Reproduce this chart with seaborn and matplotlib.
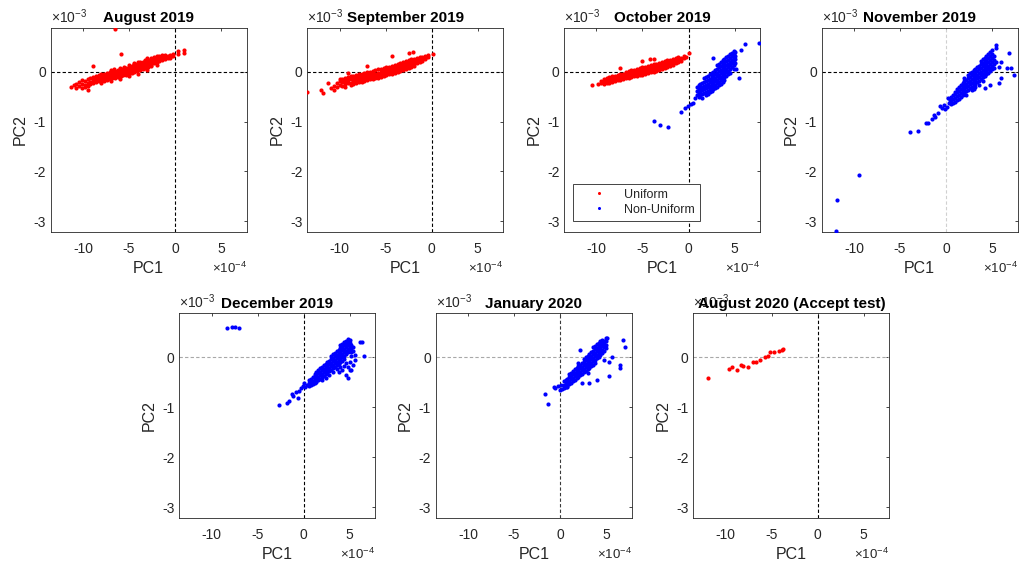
import matplotlib
matplotlib.use("Agg")
import matplotlib.pyplot as plt
from matplotlib.lines import Line2D
import seaborn as sns

# ---------------- data (PC1 in units of 1e-4, PC2 in units of 1e-3) ----------------
titles = ["August 2019", "September 2019", "October 2019", "November 2019",
          "December 2019", "January 2020", "August 2020 (Accept test)"]
x_ticks = [-10, -5, 0, 5]
y_ticks = [-3, -2, -1, 0]
legend_labels = ["Uniform", "Non-Uniform"]

# each entry: (PC1, [PC2 values at that PC1])
aug2019_uniform = [
    (-11.3, [-0.30]), (-11.0, [-0.27]), (-10.7, [-0.33, -0.24]), (-10.4, [-0.28, -0.20]),
    (-10.1, [-0.32, -0.24, -0.17]), (-9.8, [-0.26, -0.19, -0.30]), (-9.5, [-0.22, -0.15, -0.28, -0.36]),
    (-9.2, [-0.20, -0.13, -0.25]), (-8.9, [-0.17, -0.11, -0.23, 0.11]), (-8.6, [-0.15, -0.08, -0.21, -0.12]),
    (-8.3, [-0.13, -0.07, -0.19, -0.10]), (-8.0, [-0.11, -0.05, -0.17, -0.14, -0.08, -0.22]),
    (-7.7, [-0.10, -0.04, -0.15, -0.07, -0.19]), (-7.4, [-0.08, -0.02, -0.13, -0.05, -0.16]),
    (-7.1, [-0.07, -0.01, -0.12, -0.04, -0.15]), (-7.0, [-0.19, 0.04]), (-6.8, [-0.06, 0.01, -0.10, -0.03, -0.13]),
    (-6.6, [0.05]), (-6.5, [-0.04, 0.02, -0.09, -0.01, -0.12, 0.86]), (-6.2, [-0.03, 0.03, -0.07, 0.00, -0.10]),
    (-6.0, [-0.14, 0.08]), (-5.9, [-0.01, 0.05, -0.06, 0.02, -0.09, 0.36]), (-5.6, [0.00, 0.06, -0.04, 0.03, -0.07]),
    (-5.5, [0.10]), (-5.3, [0.01, 0.08, -0.03, 0.05, -0.06]), (-5.0, [0.03, 0.09, -0.02, 0.06, -0.05, 0.13, -0.09]),
    (-4.7, [0.05, 0.11, 0.00, 0.08, -0.03]), (-4.5, [0.17]), (-4.4, [0.07, 0.13, 0.02, 0.10, -0.01, 0.16]),
    (-4.1, [0.09, 0.15, 0.04, 0.12, 0.01]), (-4.0, [-0.04, 0.20]), (-3.8, [0.11, 0.17, 0.06, 0.14, 0.03, 0.20]),
    (-3.5, [0.13, 0.19, 0.08, 0.16, 0.05]), (-3.2, [0.15, 0.21, 0.10, 0.18, 0.07, 0.24]),
    (-3.0, [0.03, 0.28]), (-2.9, [0.17, 0.23, 0.12, 0.20, 0.09]), (-2.6, [0.19, 0.25, 0.14, 0.22, 0.12, 0.28]),
    (-2.3, [0.21, 0.27, 0.17, 0.24, 0.30]), (-2.0, [0.23, 0.28, 0.19, 0.26, 0.32, 0.14]),
    (-1.7, [0.25, 0.29, 0.21, 0.31]), (-1.4, [0.26, 0.30, 0.23, 0.33]),
    (-1.1, [0.28, 0.31, 0.25, 0.34]), (-0.8, [0.29, 0.32, 0.27]), (-0.5, [0.30, 0.34, 0.28]),
    (-0.2, [0.32, 0.35]), (0.3, [0.36, 0.41]), (1.0, [0.37, 0.43]),
]

sep2019_uniform = [
    (-13.5, [-0.41]), (-12.0, [-0.36]), (-11.8, [-0.42]), (-11.3, [-0.23]), (-10.9, [-0.33]),
    (-10.6, [-0.28, -0.36]), (-10.3, [-0.22, -0.30]), (-10.0, [-0.19, -0.27, -0.14]),
    (-9.7, [-0.21, -0.28, -0.15]), (-9.4, [-0.18, -0.25, -0.12, -0.30]), (-9.1, [-0.16, -0.23, -0.10, -0.03]),
    (-8.8, [-0.15, -0.22, -0.09, -0.27]), (-8.5, [-0.14, -0.20, -0.08, -0.25]),
    (-8.2, [-0.12, -0.19, -0.06, -0.23, -0.15]), (-7.9, [-0.11, -0.17, -0.05, -0.21, -0.14]),
    (-7.6, [-0.10, -0.16, -0.04, -0.20, -0.12]), (-7.3, [-0.08, -0.14, -0.02, -0.18, -0.11]),
    (-7.0, [-0.07, -0.13, -0.01, -0.17, -0.10, 0.11]), (-6.7, [-0.06, -0.12, 0.00, -0.15, -0.09]),
    (-6.4, [-0.05, -0.11, 0.02, -0.14, -0.07]), (-6.1, [-0.04, -0.09, 0.03, -0.13, -0.06]),
    (-5.8, [-0.02, -0.08, 0.05, -0.12, -0.05]), (-5.5, [-0.01, -0.07, 0.06, -0.10, -0.03]),
    (-5.2, [0.00, -0.05, 0.07, -0.09, 0.03]), (-4.9, [0.02, -0.04, 0.09, -0.07, 0.05]),
    (-4.6, [0.04, -0.02, 0.10, -0.05, 0.07]), (-4.3, [0.05, 0.00, 0.12, -0.04, 0.08, 0.31]),
    (-4.0, [0.07, 0.02, 0.14, -0.02, 0.10]), (-3.7, [0.09, 0.04, 0.16, 0.00, 0.12]),
    (-3.4, [0.11, 0.06, 0.17, 0.02, 0.14]), (-3.1, [0.13, 0.08, 0.19, 0.04, 0.16]),
    (-2.8, [0.15, 0.10, 0.21, 0.06, 0.18]), (-2.5, [0.17, 0.12, 0.23, 0.08, 0.37]),
    (-2.2, [0.19, 0.14, 0.25, 0.10]), (-2.0, [0.39]), (-1.9, [0.21, 0.16, 0.26, 0.12]),
    (-1.6, [0.23, 0.18, 0.28]), (-1.3, [0.25, 0.20, 0.29]), (-1.0, [0.26, 0.22, 0.30]),
    (-0.7, [0.28, 0.25, 0.32]), (-0.4, [0.30, 0.34]), (0.2, [0.36]),
]

oct2019_uniform = [
    (-10.5, [-0.27]), (-9.8, [-0.24]), (-9.5, [-0.22, -0.18]), (-9.2, [-0.20, -0.15, -0.25]),
    (-8.9, [-0.18, -0.13, -0.23]), (-8.6, [-0.16, -0.11, -0.22]), (-8.3, [-0.15, -0.09, -0.20, -0.12]),
    (-8.0, [-0.14, -0.08, -0.19, -0.11]), (-7.7, [-0.12, -0.07, -0.17, -0.10]),
    (-7.4, [-0.11, -0.05, -0.16, 0.07, -0.08]), (-7.1, [-0.10, -0.04, -0.14, -0.07]),
    (-6.8, [-0.08, -0.03, -0.13, -0.06, 0.00]), (-6.5, [-0.07, -0.02, -0.12, -0.04, 0.01]),
    (-6.2, [-0.06, -0.01, -0.10, -0.03, 0.03]), (-5.9, [-0.05, 0.00, -0.09, -0.02, 0.04]),
    (-5.6, [-0.03, 0.02, -0.08, 0.00, 0.06]), (-5.3, [-0.02, 0.03, -0.07, 0.01, 0.07]),
    (-5.0, [-0.01, 0.04, -0.06, 0.02, 0.09, 0.22]), (-4.7, [0.01, 0.06, -0.04, 0.03, 0.10]),
    (-4.4, [0.02, 0.07, -0.03, 0.05, 0.12]), (-4.2, [0.26]), (-4.1, [0.04, 0.09, -0.01, 0.06, 0.13]),
    (-3.8, [0.05, 0.10, 0.00, 0.08, 0.15, 0.25]), (-3.5, [0.07, 0.12, 0.02, 0.09, 0.16]),
    (-3.2, [0.09, 0.13, 0.04, 0.11, 0.18]), (-2.9, [0.10, 0.15, 0.06, 0.13, 0.19]),
    (-2.6, [0.12, 0.17, 0.08, 0.15, 0.21]), (-2.3, [0.14, 0.19, 0.10, 0.17, 0.23]),
    (-2.0, [0.16, 0.21, 0.12, 0.24]), (-1.7, [0.18, 0.22, 0.14, 0.26]),
    (-1.4, [0.20, 0.24, 0.17, 0.27]), (-1.1, [0.22, 0.26, 0.19, 0.29]),
    (-0.8, [0.25, 0.28, 0.22]), (-0.5, [0.27, 0.31]), (-0.3, [0.30]), (0.0, [0.37]),
]

oct2019_nonuniform = [
    (-3.8, [-0.98]), (-3.1, [-1.06]), (-2.2, [-1.11]),
    (-0.8, [-0.80]), (-0.35, [-0.73]), (-0.1, [-0.69]), (0.3, [-0.65]), (0.5, [-0.62]), (0.7, [-0.52]),
    (0.9, [-0.38, -0.46, -0.30]), (1.1, [-0.34, -0.42, -0.50, -0.27]),
    (1.3, [-0.33, -0.40, -0.25, -0.47]), (1.5, [-0.30, -0.37, -0.22, -0.44, -0.52]),
    (1.7, [-0.28, -0.35, -0.20, -0.42, -0.13]), (1.9, [-0.26, -0.33, -0.18, -0.40, -0.10, -0.47]),
    (2.1, [-0.24, -0.31, -0.16, -0.38, -0.08, -0.44]), (2.3, [-0.21, -0.28, -0.14, -0.35, -0.05, -0.41]),
    (2.5, [-0.18, -0.25, -0.11, -0.32, -0.03, -0.38]), (2.7, [-0.15, -0.22, -0.08, -0.29, 0.00, -0.35, 0.27]),
    (2.9, [-0.12, -0.19, -0.05, -0.26, 0.03, -0.32]), (3.1, [-0.09, -0.16, -0.02, -0.23, 0.06, -0.30, 0.13]),
    (3.3, [-0.06, -0.13, 0.01, -0.20, 0.09, -0.27, 0.16]), (3.5, [-0.03, -0.10, 0.04, -0.17, 0.12, -0.24, 0.20]),
    (3.7, [0.00, -0.07, 0.07, -0.14, 0.15, -0.20, 0.23]), (3.9, [0.03, -0.04, 0.10, -0.11, 0.18, 0.26, -0.16]),
    (4.1, [0.06, -0.01, 0.13, -0.08, 0.21, 0.29]), (4.3, [0.09, 0.02, 0.16, -0.05, 0.24, 0.32]),
    (4.5, [0.13, 0.05, 0.20, 0.27, 0.35, -0.02]), (4.7, [0.17, 0.09, 0.24, 0.31, 0.38]),
    (4.9, [0.20, 0.13, 0.28, 0.35, 0.42, 0.06]), (5.1, [0.25, 0.32, 0.40, 0.18]),
    (5.2, [0.06]), (5.5, [-0.13]), (5.7, [0.44]), (6.1, [0.56]), (7.7, [0.57]),
]

nov2019_nonuniform = [
    (-11.95, [-3.20]), (-11.8, [-2.57]), (-9.4, [-2.08]),
    (-3.9, [-1.22]), (-3.0, [-1.20]), (-2.2, [-1.03]), (-2.0, [-1.03]), (-1.5, [-0.95]),
    (-1.3, [-0.86]), (-1.15, [-0.90]), (-0.9, [-0.83]), (-0.6, [-0.68]), (-0.4, [-0.72]),
    (-0.2, [-0.66]), (-0.1, [-0.74]), (0.1, [-0.70]), (0.2, [-0.53]), (0.3, [-0.62]), (0.4, [-0.57]),
    (0.6, [-0.58, -0.50, -0.65]), (0.8, [-0.55, -0.47, -0.62]), (1.0, [-0.52, -0.44, -0.60, -0.40]),
    (1.2, [-0.49, -0.41, -0.57, -0.35]), (1.4, [-0.46, -0.38, -0.54, -0.31]),
    (1.6, [-0.42, -0.34, -0.50, -0.27]), (1.8, [-0.38, -0.31, -0.46, -0.23]),
    (2.0, [-0.34, -0.27, -0.42, -0.19, -0.13]), (2.2, [-0.31, -0.24, -0.39, -0.16, -0.46]),
    (2.4, [-0.28, -0.21, -0.36, -0.13, -0.06]), (2.6, [-0.25, -0.18, -0.33, -0.10, -0.03]),
    (2.8, [-0.22, -0.15, -0.30, -0.07, 0.00, -0.37]), (3.0, [-0.19, -0.12, -0.27, -0.04, 0.03, -0.34]),
    (3.2, [-0.16, -0.09, -0.24, -0.01, 0.06, -0.30]), (3.4, [-0.13, -0.06, -0.21, 0.02, 0.09]),
    (3.6, [-0.10, -0.03, -0.18, 0.05, 0.12, -0.26]), (3.8, [-0.07, 0.00, -0.14, 0.08, 0.15, 0.22]),
    (4.0, [-0.04, 0.03, -0.11, 0.11, 0.18, 0.25, -0.19]), (4.2, [-0.01, 0.06, -0.08, 0.14, 0.21, 0.28, -0.33]),
    (4.4, [0.02, 0.09, -0.05, 0.17, 0.24, 0.31]), (4.6, [0.05, 0.12, -0.02, 0.20, 0.27, 0.35]),
    (4.8, [0.08, 0.15, 0.01, 0.23, 0.31, 0.40, -0.26]), (5.0, [0.12, 0.19, 0.05, 0.27, 0.35, 0.44]),
    (5.2, [0.16, 0.24, 0.31, 0.08]), (5.4, [0.54, 0.48, 0.20]), (5.8, [-0.23, 0.10]),
    (6.0, [0.19, -0.13]), (6.6, [0.08]), (6.8, [0.37]), (7.05, [0.07]), (7.4, [-0.06]),
]

dec2019_nonuniform = [
    (-8.35, [0.58]), (-7.8, [0.61]), (-7.5, [0.61]), (-7.0, [0.58]),
    (-2.65, [-0.95]), (-1.85, [-0.91]), (-1.6, [-0.88]), (-1.3, [-0.73]), (-1.14, [-0.78]),
    (-0.8, [-0.70]), (-0.6, [-0.81]), (-0.48, [-0.68]), (-0.3, [-0.62]), (-0.1, [-0.58]),
    (0.1, [-0.52]), (0.2, [-0.60]), (0.4, [-0.55]),
    (0.6, [-0.52, -0.45, -0.58]), (0.8, [-0.50, -0.43, -0.56]), (1.0, [-0.47, -0.40, -0.54]),
    (1.2, [-0.45, -0.38, -0.52, -0.33]), (1.4, [-0.42, -0.35, -0.49, -0.29]),
    (1.6, [-0.39, -0.32, -0.46, -0.26]), (1.8, [-0.36, -0.29, -0.43, -0.22]),
    (2.0, [-0.33, -0.26, -0.40, -0.19, -0.46]), (2.2, [-0.30, -0.23, -0.37, -0.16]),
    (2.4, [-0.27, -0.20, -0.34, -0.13, -0.41]), (2.6, [-0.24, -0.17, -0.31, -0.10]),
    (2.8, [-0.21, -0.14, -0.28, -0.07, -0.35]), (3.0, [-0.18, -0.11, -0.25, -0.04, 0.03]),
    (3.2, [-0.15, -0.08, -0.22, -0.01, 0.06, -0.29]), (3.4, [-0.12, -0.05, -0.19, 0.02, 0.09]),
    (3.6, [-0.09, -0.02, -0.16, 0.05, 0.12, -0.23]), (3.8, [-0.06, 0.01, -0.13, 0.08, 0.15, -0.30]),
    (4.0, [-0.03, 0.04, -0.10, 0.11, 0.18, 0.24, -0.20]), (4.2, [0.00, 0.07, -0.07, 0.14, 0.21, 0.27, -0.26]),
    (4.4, [0.03, 0.10, -0.04, 0.17, 0.24, 0.30, -0.17]), (4.6, [0.06, 0.13, 0.20, 0.27, 0.33, -0.12, -0.35]),
    (4.8, [0.10, 0.17, 0.24, 0.31, 0.37, -0.41, -0.20]), (5.0, [0.14, 0.21, 0.28, 0.35, -0.10, -0.25]),
    (5.2, [0.25, 0.18, 0.10, 0.02, -0.25]), (5.4, [0.20, 0.12, -0.15]), (5.6, [0.04, -0.05]),
    (6.1, [0.31]), (6.4, [0.31]), (6.6, [0.02]),
]

jan2020_nonuniform = [
    (-1.6, [-0.73]), (-1.26, [-0.93]), (-0.7, [-0.60]), (-0.5, [-0.62]), (-0.2, [-0.58]),
    (0.0, [-0.66]), (0.1, [-0.55]), (0.2, [-0.63]),
    (0.4, [-0.55, -0.48, -0.62]), (0.6, [-0.53, -0.46, -0.60]), (0.8, [-0.50, -0.43, -0.57, -0.59]),
    (1.0, [-0.47, -0.40, -0.54, -0.34]), (1.2, [-0.44, -0.37, -0.51, -0.31]),
    (1.4, [-0.41, -0.34, -0.48, -0.27]), (1.6, [-0.38, -0.31, -0.45, -0.24]),
    (1.8, [-0.35, -0.28, -0.42, -0.21]), (2.0, [-0.32, -0.25, -0.39, -0.18, -0.12]),
    (2.2, [-0.29, -0.22, -0.36, -0.15, 0.15]), (2.4, [-0.26, -0.19, -0.33, -0.12, -0.51]),
    (2.6, [-0.23, -0.16, -0.30, -0.09, -0.03]), (2.8, [-0.20, -0.13, -0.27, -0.06, 0.00]),
    (3.0, [-0.17, -0.10, -0.24, -0.03, 0.03, -0.31]), (3.2, [-0.14, -0.07, -0.21, 0.00, 0.07, -0.51]),
    (3.4, [-0.11, -0.04, -0.18, 0.03, 0.10]), (3.6, [-0.08, -0.01, -0.15, 0.06, 0.13, 0.20]),
    (3.8, [-0.05, 0.02, -0.12, 0.09, 0.16, 0.23]), (4.0, [-0.02, 0.05, 0.12, 0.19, 0.26, -0.45]),
    (4.2, [0.01, 0.08, 0.15, 0.22, 0.29]), (4.4, [0.04, 0.11, 0.18, 0.25, 0.32]),
    (4.6, [0.08, 0.15, 0.22, 0.29, 0.35]), (4.8, [0.13, 0.20, 0.27, 0.33, -0.06]),
    (5.0, [0.18, 0.25, 0.32, 0.38]), (5.1, [0.38]), (5.3, [-0.38, -0.09]), (5.6, [0.00]),
    (6.5, [-0.15, -0.22]), (6.8, [0.35]), (7.1, [0.20]),
]

aug2020_pc1 = [-11.9, -9.6, -9.3, -8.8, -8.3, -8.1, -7.6, -7.0, -6.7, -6.3, -5.7, -5.4, -5.2, -4.7, -4.2, -3.9, -3.8]
aug2020_pc2 = [-0.41, -0.24, -0.20, -0.25, -0.15, -0.17, -0.20, -0.10, -0.09, -0.05, 0.00, 0.03, 0.10, 0.10, 0.13, 0.14, 0.16]


def flatten(cols):
    xs, ys = [], []
    for x, yl in cols:
        for y in yl:
            xs.append(x)
            ys.append(y)
    return xs, ys


# ---------------- style ----------------
sns.set_style("white")
plt.rcParams["font.family"] = ["Liberation Sans", "DejaVu Sans"]
plt.rcParams["mathtext.fontset"] = "custom"
plt.rcParams["mathtext.rm"] = "Liberation Sans"
plt.rcParams["mathtext.it"] = "Liberation Sans:italic"
plt.rcParams["mathtext.bf"] = "Liberation Sans:bold"

RED = "#ff0000"
BLUE = "#0000ff"
AXC = "#262626"
BLACK = "#000000"
GRAY = "#a8a8a8"
LGRAY = "#d0d0d0"

fig = plt.figure(figsize=(10.2, 5.64), dpi=100)

W, H_TOP, H_BOT = 0.1922, 0.3617, 0.3635
B_TOP, B_BOT = 0.5887, 0.0810
positions = [
    (0.0497, B_TOP, W, H_TOP), (0.3013, B_TOP, W, H_TOP), (0.5532, B_TOP, W, H_TOP), (0.8056, B_TOP, W, H_TOP),
    (0.1758, B_BOT, W, H_BOT), (0.4272, B_BOT, W, H_BOT), (0.6797, B_BOT, W, H_BOT),
]

# (vertical line colour, horizontal line colour)
ref_colors = [(BLACK, BLACK), (BLACK, BLACK), (BLACK, BLACK), (LGRAY, BLACK),
              (BLACK, GRAY), ("#3a3a3a", GRAY), (BLACK, GRAY)]

series = [
    [(aug2019_uniform, RED)],
    [(sep2019_uniform, RED)],
    [(oct2019_uniform, RED), (oct2019_nonuniform, BLUE)],
    [(nov2019_nonuniform, BLUE)],
    [(dec2019_nonuniform, BLUE)],
    [(jan2020_nonuniform, BLUE)],
    [(list(zip(aug2020_pc1, [[v] for v in aug2020_pc2])), RED)],
]

for i, pos in enumerate(positions):
    ax = fig.add_axes(pos)
    vcol, hcol = ref_colors[i]
    ax.axvline(0, color=vcol, lw=0.8, ls=(0, (3, 2)), zorder=1)
    ax.axhline(0, color=hcol, lw=0.8, ls=(0, (3, 2)), zorder=1)
    for cols, c in series[i]:
        xs, ys = flatten(cols)
        sns.scatterplot(x=xs, y=ys, ax=ax, color=c, s=9, linewidth=0, marker="o",
                        legend=False, zorder=3)
    ax.set_xlim(-13.5, 7.8)
    ax.set_ylim(-3.22, 0.88)
    ax.set_xticks(x_ticks)
    ax.set_yticks(y_ticks)
    ax.set_xticklabels([str(t) for t in x_ticks])
    ax.set_yticklabels([str(t) for t in y_ticks])
    ax.tick_params(axis="both", direction="in", length=2.5, width=0.6, colors=AXC,
                   labelsize=10, top=True, right=True)
    ax.tick_params(axis="x", pad=7)
    ax.tick_params(axis="y", pad=3.5)
    for sp in ax.spines.values():
        sp.set_color(AXC)
        sp.set_linewidth(0.6)
        sp.set_visible(True)
    ax.set_xlabel("PC1", fontsize=11.5, color=AXC)
    ax.set_ylabel("PC2", fontsize=11.5, color=AXC)
    ax.xaxis.set_label_coords(0.5, -0.14)
    ax.yaxis.set_label_coords(-0.115, 0.5)
    ax.set_title(titles[i], fontsize=11, fontweight="bold", color=BLACK, pad=4)
    ax.text(0.0, 1.012, r"$\times10^{-3}$", transform=ax.transAxes, ha="left", va="bottom",
            fontsize=10, color=AXC)
    ax.text(1.0, -0.14, r"$\times10^{-4}$", transform=ax.transAxes, ha="right", va="top",
            fontsize=9.5, color=AXC)
    if i == 2:
        handles = [Line2D([], [], ls="none", marker="o", markersize=2.2, color=RED, markeredgewidth=0),
                   Line2D([], [], ls="none", marker="o", markersize=2.2, color=BLUE, markeredgewidth=0)]
        leg = ax.legend(handles, legend_labels, loc="lower left", bbox_to_anchor=(0.044, 0.055),
                        fontsize=9, frameon=True, fancybox=False, framealpha=1, edgecolor=AXC,
                        borderpad=0.4, handlelength=3.3, handletextpad=0.4, labelspacing=0.25,
                        borderaxespad=0)
        leg.get_frame().set_linewidth(0.6)
        for t in leg.get_texts():
            t.set_color(AXC)

fig.savefig("out.png", dpi=100)
